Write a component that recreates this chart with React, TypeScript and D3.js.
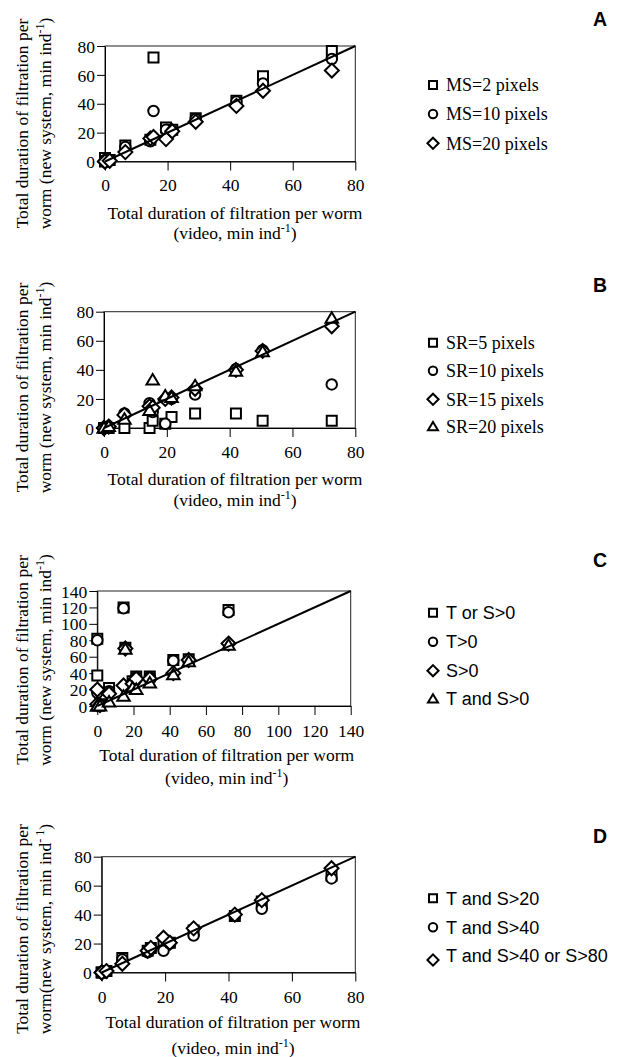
import React, { useEffect, useRef } from 'react';
import * as d3 from 'd3';

// video duration (min ind-1) of each worm, shared by all four panels
const videoDuration = [0, 0, 1.5, 6.5, 14.5, 15.5, 19.5, 21.5, 29, 42, 50.5, 72.5];

// A - minimum size
const msLabels = ['MS=2 pixels', 'MS=10 pixels', 'MS=20 pixels'];
const ms2 = [2.5, 0, 1, 11, 15, 72, 23.5, 22, 30, 42, 59, 76.5];
const ms10 = [1, 0, 1, 10, 14, 35, 22, 21, 29.5, 41.5, 54, 71];
const ms20 = [0, 0, 0.5, 6.5, 16, 17, 15.5, 21, 27.5, 38.5, 49, 63];

// B - search radius
const srLabels = ['SR=5 pixels', 'SR=10 pixels', 'SR=15 pixels', 'SR=20 pixels'];
const sr5 = [0, 0, 0, 0, 0, 5, 3, 7.5, 10, 10, 5, 5];
const sr10 = [0, 0, 1, 10, 17, 11, 3, 20, 23, 40.5, 53.5, 30];
const sr15 = [0, 0, 1, 9, 15, 14, 20, 21, 27, 40, 53, 70];
const sr20 = [0, 0, 1, 6, 12, 33, 22, 21, 29, 39, 52.5, 75.5];

// C - tentacle / siphon
const tsLabels = ['T or S>0', 'T>0', 'S>0', 'T and S>0'];
const tOrS = [82, 37, 2, 22, 120, 71, 30, 36, 36, 56, 57, 117];
const tOnly = [80, 16, 1, 18, 119, 70, 28, 35, 35, 55, 55, 114];
const sOnly = [2, 20, 1, 15, 25, 70, 27, 33, 33, 40, 56, 76];
const tAndS = [0, 0, 0, 5, 12, 69, 22, 20, 28, 38, 54, 74];

// D - thresholds
const thLabels = ['T and S>20', 'T and S>40', 'T and S>40 or S>80'];
const ts20 = [0, 0, 1, 10, 15, 17, 22, 20.5, 29, 39, 49, 67];
const ts40 = [0, 0, 1, 9, 14, 16, 15, 20, 25.5, 39, 44, 65];
const ts40s80 = [0, 0, 1, 6, 15, 17, 24, 20.5, 30.5, 40, 50, 72];

const shapes = ['square', 'circle', 'diamond', 'triangle'];
const SERIF = "'Liberation Serif', 'Times New Roman', serif";
const SANS = "'Liberation Sans', Arial, sans-serif";

function markerPath(shape: string, s: number) {
  const p = d3.path();
  if (shape === 'square') {
    p.rect(-s, -s, 2 * s, 2 * s);
  } else if (shape === 'circle') {
    p.moveTo(s * 1.05, 0);
    p.arc(0, 0, s * 1.05, 0, 2 * Math.PI);
    p.closePath();
  } else if (shape === 'diamond') {
    const r = s * 1.4;
    p.moveTo(0, -r); p.lineTo(r, 0); p.lineTo(0, r); p.lineTo(-r, 0); p.closePath();
  } else {
    p.moveTo(0, -s * 1.2); p.lineTo(s * 1.25, s * 0.9); p.lineTo(-s * 1.25, s * 0.9); p.closePath();
  }
  return p.toString();
}

const panels = [
  { letter: 'A', letterY: 26, series: [ms2, ms10, ms20], labels: msLabels, legendFont: SERIF, legendY: [85, 114, 143.3],
    max: 80, left: 105, right: 355.3, top: 46, bottom: 161.5, xTickY: 185, t1: 212.7, t2: 233, xTitleX: 235, yTitleY: 123.5,
    yLine2: 'worm (new system, min ind', ySup: '-1' },
  { letter: 'B', letterY: 292, series: [sr5, sr10, sr15, sr20], labels: srLabels, legendFont: SERIF, legendY: [342.7, 370.7, 399.3, 426.7],
    max: 80, left: 104, right: 355.3, top: 311.7, bottom: 428, xTickY: 451.7, t1: 479, t2: 500, xTitleX: 235, yTitleY: 387.5,
    yLine2: 'worm (new system, min ind', ySup: '-1' },
  { letter: 'C', letterY: 567, series: [tOrS, tOnly, sOnly, tAndS], labels: tsLabels, legendFont: SANS, legendY: [612.7, 641.7, 670.7, 699],
    max: 140, left: 97.3, right: 350.7, top: 591, bottom: 706, xTickY: 730.7, t1: 755, t2: 778, xTitleX: 226.7, yTitleY: 660,
    yLine2: 'worm (new system, min ind', ySup: '-1' },
  { letter: 'D', letterY: 843, series: [ts20, ts40, ts40s80], labels: thLabels, legendFont: SANS, legendY: [898.3, 927.3, 956],
    max: 80, left: 101.7, right: 355.3, top: 856.7, bottom: 972.5, xTickY: 996.7, t1: 1021.7, t2: 1048.3, xTitleX: 233, yTitleY: 929,
    yLine2: 'worm(new system, min ind', ySup: '- 1' },
];

function drawPanel(svg: any, cfg: any) {
  const x = d3.scaleLinear().domain([0, cfg.max]).range([cfg.left, cfg.right]);
  const y = d3.scaleLinear().domain([0, cfg.max]).range([cfg.bottom, cfg.top]);
  const ticks = d3.range(0, cfg.max + 1, 20);
  const g = svg.append('g');

  g.append('rect')
    .attr('x', cfg.left).attr('y', cfg.top)
    .attr('width', cfg.right - cfg.left).attr('height', cfg.bottom - cfg.top)
    .attr('fill', 'none').attr('stroke', '#222').attr('stroke-width', 1);

  const xAxis = g.append('g')
    .attr('transform', 'translate(0,' + cfg.bottom + ')')
    .call(d3.axisBottom(x).tickValues(ticks).tickSize(9).tickSizeOuter(0));
  xAxis.selectAll('text')
    .style('font-family', SERIF).style('font-size', '17.5px')
    .attr('fill', '#000').attr('y', cfg.xTickY - cfg.bottom).attr('dy', '0.35em');

  const yAxis = g.append('g')
    .attr('transform', 'translate(' + cfg.left + ',0)')
    .call(d3.axisLeft(y).tickValues(ticks).tickSize(8).tickSizeOuter(0).tickPadding(2));
  yAxis.selectAll('text')
    .style('font-family', SERIF).style('font-size', '17.5px')
    .attr('fill', '#000').attr('dy', '0.35em');

  cfg.series.forEach((vals: number[], i: number) => {
    g.append('g').selectAll('path')
      .data(vals).enter()
      .append('path')
      .attr('d', markerPath(shapes[i], 5))
      .attr('transform', (d: number, j: number) => 'translate(' + x(videoDuration[j]) + ',' + y(d) + ')')
      .attr('fill', '#fff').attr('stroke', '#000').attr('stroke-width', 2);
  });

  g.append('line')
    .attr('x1', x(0)).attr('y1', y(0)).attr('x2', x(cfg.max)).attr('y2', y(cfg.max))
    .attr('stroke', '#000').attr('stroke-width', 2);

  // x title
  g.append('text').attr('x', cfg.xTitleX).attr('y', cfg.t1).attr('dy', '0.35em')
    .attr('text-anchor', 'middle').style('font-family', SERIF).style('font-size', '17.5px')
    .text('Total duration of filtration per worm');
  const t2 = g.append('text').attr('x', cfg.xTitleX).attr('y', cfg.t2).attr('dy', '0.35em')
    .attr('text-anchor', 'middle').style('font-family', SERIF).style('font-size', '17.5px');
  t2.append('tspan').text('(video, min ind');
  t2.append('tspan').attr('dy', -7).style('font-size', '12px').text('-1');
  t2.append('tspan').attr('dy', 7).text(')');

  // y title
  g.append('text')
    .attr('transform', 'translate(' + 28 + ',' + cfg.yTitleY + ') rotate(-90)')
    .attr('text-anchor', 'middle').style('font-family', SERIF).style('font-size', '17.5px')
    .text('Total duration of filtration per');
  const y2 = g.append('text')
    .attr('transform', 'translate(' + 51 + ',' + cfg.yTitleY + ') rotate(-90)')
    .attr('text-anchor', 'middle').style('font-family', SERIF).style('font-size', '17.5px');
  y2.append('tspan').text(cfg.yLine2);
  y2.append('tspan').attr('dy', -7).style('font-size', '12px').text(cfg.ySup);
  y2.append('tspan').attr('dy', 7).text(')');

  // legend
  cfg.labels.forEach((label: string, i: number) => {
    const ly = cfg.legendY[i];
    g.append('path')
      .attr('d', markerPath(shapes[i], 4))
      .attr('transform', 'translate(433,' + (ly + (cfg.letter === 'D' && i === 2 ? 4 : 0)) + ')')
      .attr('fill', '#fff').attr('stroke', '#000').attr('stroke-width', 2);
    g.append('text').attr('x', 446).attr('y', ly).attr('dy', '0.35em')
      .style('font-family', cfg.legendFont).style('font-size', '18px')
      .text(label);
  });

  g.append('text').attr('x', 607).attr('y', cfg.letterY)
    .attr('text-anchor', 'end').style('font-family', SANS).style('font-weight', 'bold').style('font-size', '19.5px')
    .text(cfg.letter);
}

export default function App() {
  const ref = useRef<SVGSVGElement>(null);

  useEffect(() => {
    const svg = d3.select(ref.current);
    svg.selectAll('*').remove();
    panels.forEach(p => drawPanel(svg, p));
  }, []);

  return (
    <svg ref={ref} width={618} height={1057}
      style={{ position: 'absolute', left: 0, top: 0, background: '#fff' }} />
  );
}
